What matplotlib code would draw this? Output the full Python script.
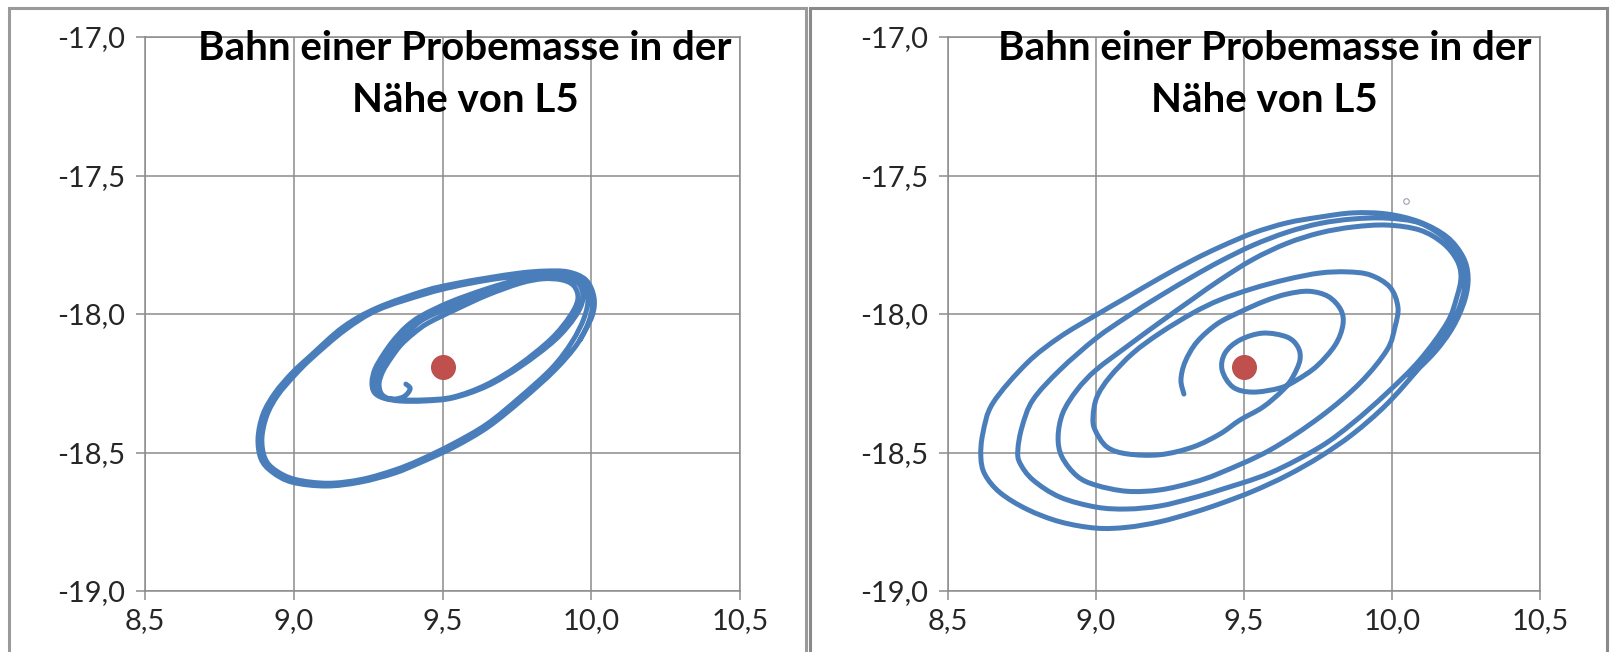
import numpy as np
import matplotlib.pyplot as plt
from matplotlib.patches import Rectangle, PathPatch
from matplotlib.path import Path
from matplotlib.ticker import FuncFormatter, MultipleLocator

plt.rcParams['font.family'] = ['Lato', 'DejaVu Sans']

title = 'Bahn einer Probemasse in der\nNähe von L5'
l5 = (9.5, -18.19)

# linkes Diagramm: Start in Ruhe, drei innere Umläufe, dann zwei große
left_start_x = [9.377, 9.391, 9.384, 9.367, 9.340, 9.313]
left_start_y = [-18.253, -18.267, -18.285, -18.300, -18.307, -18.303]

left_lap1_x = [9.293, 9.287, 9.300, 9.327, 9.360, 9.404, 9.451, 9.542, 9.650, 9.761, 9.838,
               9.902, 9.942, 9.955, 9.929, 9.865, 9.757, 9.646, 9.535, 9.441, 9.357, 9.307]
left_lap1_y = [-18.285, -18.249, -18.206, -18.159, -18.112, -18.069, -18.033, -17.985, -17.932,
               -17.889, -17.873, -17.877, -17.899, -17.946, -18.007, -18.090, -18.184, -18.256,
               -18.300, -18.310, -18.310, -18.303]

left_lap2_x = [9.280, 9.273, 9.287, 9.313, 9.347, 9.391, 9.438, 9.532, 9.646, 9.761, 9.841,
               9.912, 9.959, 9.972, 9.945, 9.878, 9.764, 9.650, 9.535, 9.441, 9.357, 9.300]
left_lap2_y = [-18.285, -18.249, -18.202, -18.155, -18.105, -18.058, -18.018, -17.971, -17.921,
               -17.881, -17.866, -17.866, -17.892, -17.946, -18.011, -18.094, -18.188, -18.260,
               -18.303, -18.314, -18.314, -18.303]

left_lap3_x = [9.270, 9.263, 9.273, 9.300, 9.334, 9.377, 9.428, 9.525, 9.646, 9.761, 9.845,
               9.922, 9.972, 9.989]
left_lap3_y = [-18.282, -18.245, -18.199, -18.148, -18.097, -18.047, -18.007, -17.957, -17.910,
               -17.874, -17.859, -17.859, -17.884, -17.942]

left_big1_x = [9.976, 9.935, 9.868, 9.761, 9.650, 9.535, 9.424, 9.340, 9.229, 9.115, 9.004,
               8.937, 8.903, 8.893, 8.910, 8.947, 9.004, 9.061, 9.172, 9.283, 9.441, 9.535,
               9.650, 9.761, 9.838, 9.918, 9.976, 10.003]
left_big1_y = [-18.014, -18.101, -18.195, -18.300, -18.397, -18.469, -18.527, -18.563, -18.597,
               -18.611, -18.597, -18.563, -18.520, -18.448, -18.365, -18.292, -18.220, -18.159,
               -18.058, -17.985, -17.928, -17.902, -17.878, -17.862, -17.856, -17.856, -17.881,
               -17.942]

left_big2_x = [9.996, 9.955, 9.878, 9.767, 9.653, 9.539, 9.424, 9.337, 9.223, 9.108, 8.994,
               8.927, 8.890, 8.880, 8.897, 8.937, 8.994, 9.055, 9.166, 9.280, 9.438, 9.535,
               9.650, 9.761, 9.845, 9.922, 9.982, 10.009, 10.003, 9.962]
left_big2_y = [-18.014, -18.105, -18.202, -18.310, -18.408, -18.480, -18.537, -18.575, -18.607,
               -18.621, -18.607, -18.570, -18.523, -18.448, -18.361, -18.285, -18.213, -18.152,
               -18.047, -17.978, -17.917, -17.892, -17.870, -17.852, -17.845, -17.848, -17.877,
               -17.939, -18.007, -18.094]

# rechtes Diagramm: nach außen laufende Spirale
right_start_x = [9.297, 9.287, 9.301, 9.341, 9.409, 9.486, 9.571, 9.645, 9.720, 9.785, 9.827,
                 9.834, 9.808, 9.746, 9.679, 9.622]
right_start_y = [-18.289, -18.238, -18.173, -18.101, -18.036, -17.993, -17.953, -17.928, -17.918,
                 -17.937, -17.985, -18.040, -18.112, -18.188, -18.238, -18.267]

right_loop0_x = [9.530, 9.463, 9.426, 9.436, 9.486, 9.564, 9.645, 9.682, 9.689, 9.665, 9.632,
                 9.564, 9.486, 9.419]
right_loop0_y = [-18.282, -18.264, -18.202, -18.141, -18.094, -18.069, -18.083, -18.119, -18.166,
                 -18.227, -18.274, -18.336, -18.383, -18.433]

right_loop1_x = [9.328, 9.216, 9.105, 9.037, 8.997, 8.990, 9.003, 9.047, 9.125, 9.216, 9.328,
                 9.419, 9.530, 9.645, 9.757, 9.848, 9.926, 9.993, 10.020, 10.010, 9.983, 9.892,
                 9.757, 9.588, 9.419]
right_loop1_y = [-18.480, -18.508, -18.505, -18.480, -18.419, -18.372, -18.300, -18.227, -18.141,
                 -18.069, -17.996, -17.949, -17.908, -17.875, -17.852, -17.848, -17.859, -17.903,
                 -17.975, -18.047, -18.130, -18.249, -18.372, -18.491, -18.574]

right_loop2_x = [9.328, 9.216, 9.105, 9.000, 8.936, 8.885, 8.872, 8.888, 8.936, 9.000, 9.105,
                 9.216, 9.328, 9.419, 9.530, 9.645, 9.757, 9.868, 9.983, 10.094, 10.172, 10.219,
                 10.233, 10.219, 10.186, 10.094, 9.983, 9.868, 9.757, 9.588, 9.419]
right_loop2_y = [-18.608, -18.635, -18.640, -18.618, -18.585, -18.516, -18.444, -18.357, -18.274,
                 -18.202, -18.117, -18.030, -17.945, -17.877, -17.803, -17.745, -17.707, -17.686,
                 -17.679, -17.697, -17.744, -17.805, -17.866, -17.939, -18.032, -18.166, -18.285,
                 -18.393, -18.480, -18.574, -18.635]

right_loop3_x = [9.328, 9.216, 9.105, 9.000, 8.878, 8.787, 8.743, 8.736, 8.750, 8.787, 8.878,
                 9.000, 9.105, 9.216, 9.328, 9.419, 9.530, 9.645, 9.757, 9.868, 9.983, 10.094,
                 10.186, 10.233, 10.246, 10.236, 10.196, 10.094, 9.983, 9.868, 9.757, 9.645,
                 9.530, 9.419]
right_loop3_y = [-18.664, -18.693, -18.704, -18.697, -18.661, -18.599, -18.538, -18.491, -18.408,
                 -18.310, -18.202, -18.088, -18.010, -17.935, -17.864, -17.810, -17.752, -17.705,
                 -17.673, -17.657, -17.654, -17.672, -17.733, -17.805, -17.877, -17.949, -18.047,
                 -18.191, -18.325, -18.433, -18.515, -18.583, -18.640, -18.685]

right_loop4_x = [9.328, 9.216, 9.105, 9.000, 8.878, 8.767, 8.676, 8.625, 8.611, 8.618, 8.652,
                 8.767, 8.878, 9.000, 9.105, 9.216, 9.328, 9.419, 9.530, 9.645, 9.757, 9.868,
                 9.983, 10.094, 10.186, 10.240, 10.257, 10.246, 10.206, 10.145, 10.061]
right_loop4_y = [-18.717, -18.750, -18.770, -18.773, -18.750, -18.705, -18.645, -18.580, -18.516,
                 -18.430, -18.321, -18.177, -18.083, -18.004, -17.939, -17.870, -17.805, -17.758,
                 -17.708, -17.671, -17.650, -17.635, -17.639, -17.668, -17.722, -17.794, -17.866,
                 -17.949, -18.047, -18.137, -18.227]

right_extra = (10.046, -17.591)

left_x = left_start_x + left_lap1_x + left_lap2_x + left_lap3_x + left_big1_x + left_big2_x
left_y = left_start_y + left_lap1_y + left_lap2_y + left_lap3_y + left_big1_y + left_big2_y
right_x = right_start_x + right_loop0_x + right_loop1_x + right_loop2_x + right_loop3_x + right_loop4_x
right_y = right_start_y + right_loop0_y + right_loop1_y + right_loop2_y + right_loop3_y + right_loop4_y

blue = '#4a7ebb'
red = '#c0504d'
grid_col = '#8c8c8c'


def smooth_line(xs, ys):
    # geglättete Linie wie in Excel: Bezier-Segmente durch die Punkte (Catmull-Rom)
    p = np.column_stack([xs, ys])
    n = len(p)
    verts = [p[0]]
    codes = [Path.MOVETO]
    for i in range(n - 1):
        a = p[i - 1] if i > 0 else p[i]
        d = p[i + 2] if i + 2 < n else p[i + 1]
        verts += [p[i] + (p[i + 1] - a) / 6, p[i + 1] - (d - p[i]) / 6, p[i + 1]]
        codes += [Path.CURVE4] * 3
    return Path(verts, codes)


fig = plt.figure(figsize=(16.1, 6.52), dpi=100)

# Rahmen der beiden Diagrammflächen
fig.patches.append(Rectangle((9 / 1610, -0.05), 797 / 1610, 1.05 - 8 / 652, transform=fig.transFigure,
                             fill=False, edgecolor='#9a9a9a', linewidth=2.2, zorder=0))
fig.patches.append(Rectangle((810 / 1610, -0.05), 797 / 1610, 1.05 - 8 / 652, transform=fig.transFigure,
                             fill=False, edgecolor='#8a8a8a', linewidth=2.2, zorder=0))

ax1 = fig.add_axes([145 / 1610, 61 / 652, 595 / 1610, 554 / 652])
ax2 = fig.add_axes([948 / 1610, 61 / 652, 592 / 1610, 554 / 652])

comma = FuncFormatter(lambda v, pos: f'{v:.1f}'.replace('.', ','))

for ax, xs, ys, tx in [(ax1, left_x, left_y, 0.538), (ax2, right_x, right_y, 0.535)]:
    ax.add_patch(PathPatch(smooth_line(xs, ys), fill=False, edgecolor=blue, lw=3.6,
                           joinstyle='round', capstyle='round', zorder=3))
    ax.plot(l5[0], l5[1], 'o', color=red, markersize=17, markeredgecolor='#b9504c', zorder=4)
    ax.set_xlim(8.5, 10.5)
    ax.set_ylim(-19.0, -17.0)
    ax.xaxis.set_major_locator(MultipleLocator(0.5))
    ax.yaxis.set_major_locator(MultipleLocator(0.5))
    ax.xaxis.set_major_formatter(comma)
    ax.yaxis.set_major_formatter(comma)
    ax.grid(True, color=grid_col, lw=1.1)
    ax.set_axisbelow(True)
    for sp in ax.spines.values():
        sp.set_color(grid_col)
        sp.set_linewidth(1.1)
    ax.tick_params(direction='out', length=6.5, width=1.1, color=grid_col,
                   labelsize=21, labelcolor='#262626')
    ax.tick_params(axis='y', pad=8)
    ax.tick_params(axis='x', pad=6)
    ax.text(tx, 0.933, title, transform=ax.transAxes, ha='center', va='center',
            fontsize=29, fontweight='bold', linespacing=1.5, zorder=5)

ax2.plot(right_extra[0], right_extra[1], 'o', markersize=4, markerfacecolor='white',
         markeredgecolor='#9aa0ac', markeredgewidth=0.8, zorder=4)

fig.savefig('out.png', dpi=100)
